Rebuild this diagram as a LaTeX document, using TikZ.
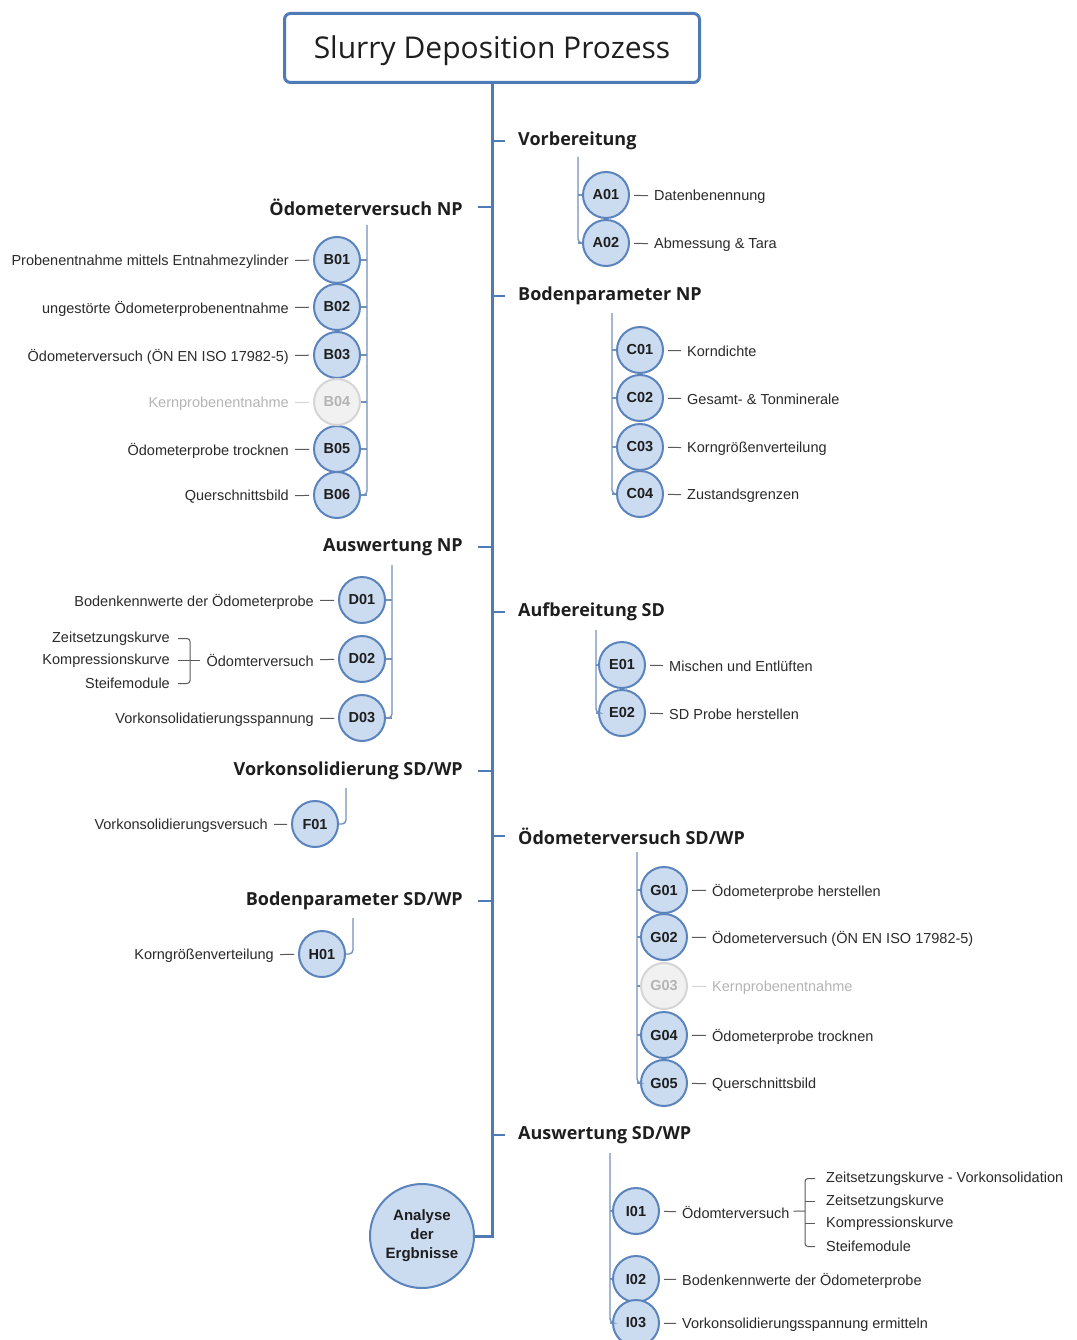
\documentclass[tikz,border=0pt]{standalone}
\usepackage{fontspec}
\setmainfont{Liberation Sans}
\newfontfamily\titlefont{Open Sans}
\newfontfamily\groupfont{Open Sans}
\usepackage{tikz}
\usetikzlibrary{positioning}

\definecolor{mainblue}{RGB}{78,122,181}
\definecolor{subblue}{RGB}{115,145,186}
\definecolor{circblue}{RGB}{91,132,189}
\definecolor{circfill}{RGB}{203,219,240}
\definecolor{conngrey}{RGB}{90,90,90}
\definecolor{textdark}{RGB}{30,30,30}
\definecolor{textmid}{RGB}{42,42,42}
\definecolor{offline}{RGB}{213,213,213}
\definecolor{offfill}{RGB}{241,241,241}
\definecolor{offtext}{RGB}{180,180,180}

\tikzset{
    spine/.style={draw=mainblue, line width=3pt},
    branch/.style={draw=mainblue, line width=2pt},
    sub/.style={draw=subblue, line width=1.4pt},
    conn/.style={draw=conngrey, line width=1pt},
    titlebox/.style={draw=mainblue, line width=3pt, rounded corners=6pt, fill=white,
        minimum width=415pt, minimum height=69pt, text=textdark, text height=22pt, text depth=1pt,
        font=\titlefont\fontsize{30}{36}\selectfont},
    group/.style={inner sep=0pt, yshift=-2pt, text=textdark, font=\groupfont\fontsize{18}{22}\selectfont\bfseries},
    itm/.style={circle, draw=circblue, fill=circfill, line width=2pt, minimum size=46pt,
        inner sep=0pt, text=textdark, font=\fontsize{14.5}{17}\selectfont\bfseries},
    itmoff/.style={itm, draw=offline, fill=offfill, text=offtext},
    itmtext/.style={inner sep=0pt, yshift=-1.5pt, text=textmid, font=\fontsize{14.5}{17}\selectfont},
    itmofftext/.style={itmtext, text=offtext},
    itmline/.style={conn, shorten <=4pt, shorten >=6pt},
    itmoffline/.style={itmline, draw=offline},
    result/.style={itm, minimum size=104pt, align=center, font=\fontsize{15}{19}\selectfont\bfseries},
}

\begin{document}
\begin{tikzpicture}[x=1pt, y=-1pt]
    \useasboundingbox (0,0) rectangle (1076,1340);
    % Title and spine
    \node[titlebox] (title) at (492,48) {Slurry Deposition Prozess};
    \node[result] (res) at (422,1236) {Analyse\\der\\Ergbnisse};
    \draw[spine] (title.south) |- (res.east);

    % Vorbereitung
    \node[group, anchor=west] (ga) at (518,139) {Vorbereitung};
    \draw[branch, shorten >=13pt] (ga.west -| title.south) -- (ga.west);
    \coordinate (atop) at (578,157);
    \foreach \n/\y/\t in {1/195/Datenbenennung, 2/243/Abmessung \& Tara} {
        \node[itm] (a\n) at (606,\y) {A0\n};
        \node[itmtext, anchor=west] (al\n) at (654,\y) {\t};
        \draw[itmline] (a\n) -- (al\n);
        \draw[sub] (a\n.west -| atop) -- (a\n.west);
    }
    \draw[sub, rounded corners=4pt] (atop) |- (a2.west);

    % Oedometerversuch NP
    \node[group, anchor=east] (gb) at (463,205) {Ödometerversuch NP};
    \draw[branch, shorten <=15pt] (gb.east) -- (gb.east -| title.south);
    \coordinate (btop) at (367,225);
    \foreach \n/\y/\t in {1/260/Probenentnahme mittels Entnahmezylinder,
            2/307/ungestörte Ödometerprobenentnahme, 3/355/Ödometerversuch (ÖN EN ISO 17982-5),
            5/449/Ödometerprobe trocknen, 6/495/Querschnittsbild} {
        \node[itm] (b\n) at (337,\y) {B0\n};
        \node[itmtext, anchor=east] (bl\n) at (289,\y) {\t};
        \draw[itmline] (b\n) -- (bl\n);
        \draw[sub] (b\n.east) -- (b\n.east -| btop);
    }
    \node[itmoff] (b4) at (337,402) {B04};
    \node[itmofftext, anchor=east] (bl4) at (289,402) {Kernprobenentnahme};
    \draw[itmoffline] (b4) -- (bl4);
    \draw[sub] (b4.east) -- (b4.east -| btop);
    \draw[sub, rounded corners=4pt] (btop) |- (b6.east);

    % Bodenparameter NP
    \node[group, anchor=west] (gc) at (518,294) {Bodenparameter NP};
    \draw[branch, shorten >=13pt] (gc.west -| title.south) -- (gc.west);
    \coordinate (ctop) at (612,313);
    \foreach \n/\y/\t in {1/350/Korndichte, 2/398/Gesamt- \& Tonminerale,
            3/447/Korngrößenverteilung, 4/494/Zustandsgrenzen} {
        \node[itm] (c\n) at (640,\y) {C0\n};
        \node[itmtext, anchor=west] (cl\n) at (687,\y) {\t};
        \draw[itmline] (c\n) -- (cl\n);
        \draw[sub] (c\n.west -| ctop) -- (c\n.west);
    }
    \draw[sub, rounded corners=4pt] (ctop) |- (c4.west);

    % Auswertung NP
    \node[group, anchor=east] (gd) at (463,545) {Auswertung NP};
    \draw[branch, shorten <=15pt] (gd.east) -- (gd.east -| title.south);
    \coordinate (dtop) at (392,565);
    \foreach \n/\y/\t in {1/600/Bodenkennwerte der Ödometerprobe, 2/659/Ödomterversuch,
            3/718/Vorkonsolidatierungsspannung} {
        \node[itm] (d\n) at (362,\y) {D0\n};
        \node[itmtext, anchor=east] (dl\n) at (314,\y) {\t};
        \draw[itmline] (d\n) -- (dl\n);
        \draw[sub] (d\n.east) -- (d\n.east -| dtop);
    }
    \draw[sub, rounded corners=4pt] (dtop) |- (d3.east);
    \node[itmtext, anchor=east] (dk1) at (170,637) {Zeitsetzungskurve};
    \node[itmtext, anchor=east] (dk2) at (170,659) {Kompressionskurve};
    \node[itmtext, anchor=east] (dk3) at (170,682) {Steifemodule};
    \coordinate (dbr) at (190,659);
    \draw[conn, rounded corners=3pt, shorten <=8pt, shorten >=8pt] (dk1.east) -| (dbr) |- (dk3.east);
    \draw[conn, shorten <=8pt, shorten >=6pt] (dk2) -- (dl2);

    % Aufbereitung SD
    \node[group, anchor=west] (ge) at (518,610) {Aufbereitung SD};
    \draw[branch, shorten >=13pt] (ge.west -| title.south) -- (ge.west);
    \coordinate (etop) at (596,630);
    \foreach \n/\y/\t in {1/665/Mischen und Entlüften, 2/713/SD Probe herstellen} {
        \node[itm] (e\n) at (622,\y) {E0\n};
        \node[itmtext, anchor=west] (el\n) at (669,\y) {\t};
        \draw[itmline] (e\n) -- (el\n);
        \draw[sub] (e\n.west -| etop) -- (e\n.west);
    }
    \draw[sub, rounded corners=4pt] (etop) |- (e2.west);

    % Vorkonsolidierung SD/WP
    \node[group, anchor=east] (gf) at (463,769) {Vorkonsolidierung SD/WP};
    \draw[branch, shorten <=15pt] (gf.east) -- (gf.east -| title.south);
    \coordinate (ftop) at (346,788);
    \node[itm] (f1) at (315,824) {F01};
    \node[itmtext, anchor=east] (fl1) at (268,824) {Vorkonsolidierungsversuch};
    \draw[itmline] (f1) -- (fl1);
    \draw[sub, rounded corners=4pt] (ftop) |- (f1.east);

    % Oedometerversuch SD/WP
    \node[group, anchor=west] (gg) at (518,834) {Ödometerversuch SD/WP};
    \draw[branch, shorten >=13pt] (gg.west -| title.south) -- (gg.west);
    \coordinate (gtop) at (637,852);
    \foreach \n/\y/\t in {1/890/Ödometerprobe herstellen, 2/937/Ödometerversuch (ÖN EN ISO 17982-5),
            4/1035/Ödometerprobe trocknen, 5/1083/Querschnittsbild} {
        \node[itm] (g\n) at (664,\y) {G0\n};
        \node[itmtext, anchor=west] (gl\n) at (712,\y) {\t};
        \draw[itmline] (g\n) -- (gl\n);
        \draw[sub] (g\n.west -| gtop) -- (g\n.west);
    }
    \node[itmoff] (g3) at (664,986) {G03};
    \node[itmofftext, anchor=west] (gl3) at (712,986) {Kernprobenentnahme};
    \draw[itmoffline] (g3) -- (gl3);
    \draw[sub] (g3.west -| gtop) -- (g3.west);
    \draw[sub, rounded corners=4pt] (gtop) |- (g5.west);

    % Bodenparameter SD/WP
    \node[group, anchor=east] (gh) at (463,899) {Bodenparameter SD/WP};
    \draw[branch, shorten <=15pt] (gh.east) -- (gh.east -| title.south);
    \coordinate (htop) at (353,918);
    \node[itm] (h1) at (322,954) {H01};
    \node[itmtext, anchor=east] (hl1) at (274,954) {Korngrößenverteilung};
    \draw[itmline] (h1) -- (hl1);
    \draw[sub, rounded corners=4pt] (htop) |- (h1.east);

    % Auswertung SD/WP
    \node[group, anchor=west] (gi) at (518,1133) {Auswertung SD/WP};
    \draw[branch, shorten >=13pt] (gi.west -| title.south) -- (gi.west);
    \coordinate (itop) at (610,1153);
    \foreach \n/\y/\t in {1/1211/Ödomterversuch, 2/1279/Bodenkennwerte der Ödometerprobe,
            3/1323/Vorkonsolidierungsspannung ermitteln} {
        \node[itm] (i\n) at (636,\y) {I0\n};
        \node[itmtext, anchor=west] (il\n) at (682,\y) {\t};
        \draw[itmline] (i\n) -- (il\n);
        \draw[sub] (i\n.west -| itop) -- (i\n.west);
    }
    \draw[sub, rounded corners=4pt] (itop) |- (i3.west);
    \node[itmtext, anchor=west] (ik1) at (826,1177) {Zeitsetzungskurve - Vorkonsolidation};
    \node[itmtext, anchor=west] (ik2) at (826,1200) {Zeitsetzungskurve};
    \node[itmtext, anchor=west] (ik3) at (826,1222) {Kompressionskurve};
    \node[itmtext, anchor=west] (ik4) at (826,1245) {Steifemodule};
    \coordinate (ibr) at (805,1211);
    \draw[conn, rounded corners=3pt, shorten <=11pt, shorten >=11pt] (ik1.west) -| (ibr) |- (ik4.west);
    \draw[conn, shorten >=11pt] (ik2.west -| ibr) -- (ik2.west);
    \draw[conn, shorten >=11pt] (ik3.west -| ibr) -- (ik3.west);
    \draw[conn, shorten <=4pt] (il1) -- (ibr);
\end{tikzpicture}
\end{document}
